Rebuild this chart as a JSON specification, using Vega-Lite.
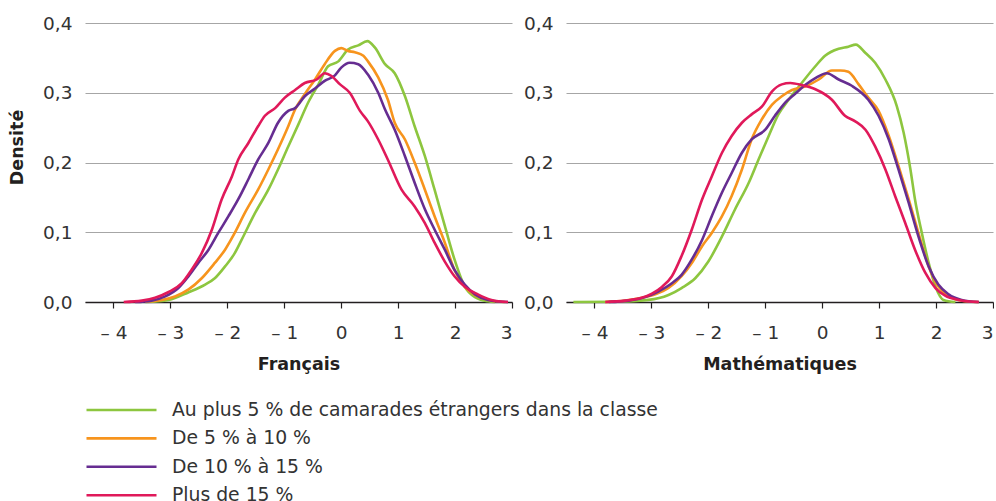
{
  "$schema": "https://vega.github.io/schema/vega-lite/v6.json",
  "padding": {"left": 8, "top": 14, "right": 0, "bottom": 0},
  "bounds": "flush",
  "spacing": 54,
  "config": {
    "font": "DejaVu Sans",
    "view": {"stroke": null},
    "axis": {
      "labelFont": "DejaVu Sans",
      "labelFontSize": 18.5,
      "labelColor": "#333333",
      "titleFont": "DejaVu Sans",
      "titleFontSize": 17.5,
      "titleFontWeight": "bold",
      "titleColor": "#231f20"
    },
    "line": {"strokeWidth": 2.6, "interpolate": "monotone"}
  },
  "datasets": {
    "groupes": [
      {"g": "g1", "groupe": "Au plus 5 % de camarades étrangers dans la classe"},
      {"g": "g2", "groupe": "De 5 % à 10 %"},
      {"g": "g3", "groupe": "De 10 % à 15 %"},
      {"g": "g4", "groupe": "Plus de 15 %"}
    ],
    "courbes": [
      {"s": "F", "g": "g1", "x": -3.44, "y": 0},
      {"s": "F", "g": "g1", "x": -3.03, "y": 0.003},
      {"s": "F", "g": "g1", "x": -2.68, "y": 0.014},
      {"s": "F", "g": "g1", "x": -2.39, "y": 0.025},
      {"s": "F", "g": "g1", "x": -2.22, "y": 0.034},
      {"s": "F", "g": "g1", "x": -2.04, "y": 0.051},
      {"s": "F", "g": "g1", "x": -1.87, "y": 0.07},
      {"s": "F", "g": "g1", "x": -1.75, "y": 0.089},
      {"s": "F", "g": "g1", "x": -1.51, "y": 0.128},
      {"s": "F", "g": "g1", "x": -1.28, "y": 0.161},
      {"s": "F", "g": "g1", "x": -1.11, "y": 0.19},
      {"s": "F", "g": "g1", "x": -0.93, "y": 0.223},
      {"s": "F", "g": "g1", "x": -0.75, "y": 0.255},
      {"s": "F", "g": "g1", "x": -0.58, "y": 0.286},
      {"s": "F", "g": "g1", "x": -0.4, "y": 0.312},
      {"s": "F", "g": "g1", "x": -0.23, "y": 0.338},
      {"s": "F", "g": "g1", "x": -0.05, "y": 0.345},
      {"s": "F", "g": "g1", "x": 0.12, "y": 0.362},
      {"s": "F", "g": "g1", "x": 0.3, "y": 0.368},
      {"s": "F", "g": "g1", "x": 0.46, "y": 0.374},
      {"s": "F", "g": "g1", "x": 0.59, "y": 0.365},
      {"s": "F", "g": "g1", "x": 0.77, "y": 0.341},
      {"s": "F", "g": "g1", "x": 0.94, "y": 0.328},
      {"s": "F", "g": "g1", "x": 1.12, "y": 0.295},
      {"s": "F", "g": "g1", "x": 1.29, "y": 0.252},
      {"s": "F", "g": "g1", "x": 1.47, "y": 0.209},
      {"s": "F", "g": "g1", "x": 1.64, "y": 0.161},
      {"s": "F", "g": "g1", "x": 1.82, "y": 0.109},
      {"s": "F", "g": "g1", "x": 1.99, "y": 0.061},
      {"s": "F", "g": "g1", "x": 2.17, "y": 0.022},
      {"s": "F", "g": "g1", "x": 2.35, "y": 0.007},
      {"s": "F", "g": "g1", "x": 2.58, "y": 0.001},
      {"s": "F", "g": "g1", "x": 2.7, "y": 0},

      {"s": "F", "g": "g2", "x": -3.44, "y": 0.0005},
      {"s": "F", "g": "g2", "x": -3.15, "y": 0.003},
      {"s": "F", "g": "g2", "x": -2.92, "y": 0.008},
      {"s": "F", "g": "g2", "x": -2.68, "y": 0.018},
      {"s": "F", "g": "g2", "x": -2.45, "y": 0.034},
      {"s": "F", "g": "g2", "x": -2.22, "y": 0.056},
      {"s": "F", "g": "g2", "x": -2.04, "y": 0.075},
      {"s": "F", "g": "g2", "x": -1.87, "y": 0.099},
      {"s": "F", "g": "g2", "x": -1.69, "y": 0.128},
      {"s": "F", "g": "g2", "x": -1.46, "y": 0.161},
      {"s": "F", "g": "g2", "x": -1.28, "y": 0.19},
      {"s": "F", "g": "g2", "x": -1.11, "y": 0.219},
      {"s": "F", "g": "g2", "x": -0.93, "y": 0.252},
      {"s": "F", "g": "g2", "x": -0.81, "y": 0.276},
      {"s": "F", "g": "g2", "x": -0.64, "y": 0.298},
      {"s": "F", "g": "g2", "x": -0.46, "y": 0.319},
      {"s": "F", "g": "g2", "x": -0.29, "y": 0.341},
      {"s": "F", "g": "g2", "x": -0.11, "y": 0.36},
      {"s": "F", "g": "g2", "x": 0.0, "y": 0.364},
      {"s": "F", "g": "g2", "x": 0.12, "y": 0.36},
      {"s": "F", "g": "g2", "x": 0.24, "y": 0.358},
      {"s": "F", "g": "g2", "x": 0.39, "y": 0.353},
      {"s": "F", "g": "g2", "x": 0.47, "y": 0.345},
      {"s": "F", "g": "g2", "x": 0.65, "y": 0.322},
      {"s": "F", "g": "g2", "x": 0.82, "y": 0.29},
      {"s": "F", "g": "g2", "x": 0.94, "y": 0.257},
      {"s": "F", "g": "g2", "x": 1.12, "y": 0.233},
      {"s": "F", "g": "g2", "x": 1.29, "y": 0.2},
      {"s": "F", "g": "g2", "x": 1.47, "y": 0.161},
      {"s": "F", "g": "g2", "x": 1.64, "y": 0.123},
      {"s": "F", "g": "g2", "x": 1.82, "y": 0.085},
      {"s": "F", "g": "g2", "x": 1.99, "y": 0.046},
      {"s": "F", "g": "g2", "x": 2.17, "y": 0.022},
      {"s": "F", "g": "g2", "x": 2.35, "y": 0.01},
      {"s": "F", "g": "g2", "x": 2.58, "y": 0.003},
      {"s": "F", "g": "g2", "x": 2.87, "y": 0},

      {"s": "F", "g": "g3", "x": -3.62, "y": 0},
      {"s": "F", "g": "g3", "x": -3.33, "y": 0.002},
      {"s": "F", "g": "g3", "x": -3.09, "y": 0.008},
      {"s": "F", "g": "g3", "x": -2.86, "y": 0.02},
      {"s": "F", "g": "g3", "x": -2.68, "y": 0.037},
      {"s": "F", "g": "g3", "x": -2.51, "y": 0.056},
      {"s": "F", "g": "g3", "x": -2.33, "y": 0.075},
      {"s": "F", "g": "g3", "x": -2.16, "y": 0.099},
      {"s": "F", "g": "g3", "x": -1.98, "y": 0.123},
      {"s": "F", "g": "g3", "x": -1.81, "y": 0.147},
      {"s": "F", "g": "g3", "x": -1.63, "y": 0.176},
      {"s": "F", "g": "g3", "x": -1.46, "y": 0.204},
      {"s": "F", "g": "g3", "x": -1.28, "y": 0.228},
      {"s": "F", "g": "g3", "x": -1.11, "y": 0.257},
      {"s": "F", "g": "g3", "x": -0.93, "y": 0.274},
      {"s": "F", "g": "g3", "x": -0.81, "y": 0.278},
      {"s": "F", "g": "g3", "x": -0.64, "y": 0.295},
      {"s": "F", "g": "g3", "x": -0.46, "y": 0.306},
      {"s": "F", "g": "g3", "x": -0.29, "y": 0.317},
      {"s": "F", "g": "g3", "x": -0.11, "y": 0.325},
      {"s": "F", "g": "g3", "x": 0.0, "y": 0.336},
      {"s": "F", "g": "g3", "x": 0.15, "y": 0.343},
      {"s": "F", "g": "g3", "x": 0.3, "y": 0.341},
      {"s": "F", "g": "g3", "x": 0.47, "y": 0.326},
      {"s": "F", "g": "g3", "x": 0.65, "y": 0.3},
      {"s": "F", "g": "g3", "x": 0.77, "y": 0.276},
      {"s": "F", "g": "g3", "x": 0.94, "y": 0.247},
      {"s": "F", "g": "g3", "x": 1.12, "y": 0.209},
      {"s": "F", "g": "g3", "x": 1.29, "y": 0.171},
      {"s": "F", "g": "g3", "x": 1.47, "y": 0.133},
      {"s": "F", "g": "g3", "x": 1.64, "y": 0.104},
      {"s": "F", "g": "g3", "x": 1.82, "y": 0.075},
      {"s": "F", "g": "g3", "x": 1.99, "y": 0.046},
      {"s": "F", "g": "g3", "x": 2.17, "y": 0.025},
      {"s": "F", "g": "g3", "x": 2.35, "y": 0.011},
      {"s": "F", "g": "g3", "x": 2.58, "y": 0.003},
      {"s": "F", "g": "g3", "x": 2.93, "y": 0},

      {"s": "F", "g": "g4", "x": -3.82, "y": 0},
      {"s": "F", "g": "g4", "x": -3.5, "y": 0.002},
      {"s": "F", "g": "g4", "x": -3.27, "y": 0.006},
      {"s": "F", "g": "g4", "x": -3.04, "y": 0.014},
      {"s": "F", "g": "g4", "x": -2.8, "y": 0.027},
      {"s": "F", "g": "g4", "x": -2.63, "y": 0.046},
      {"s": "F", "g": "g4", "x": -2.45, "y": 0.07},
      {"s": "F", "g": "g4", "x": -2.27, "y": 0.104},
      {"s": "F", "g": "g4", "x": -2.1, "y": 0.147},
      {"s": "F", "g": "g4", "x": -1.92, "y": 0.18},
      {"s": "F", "g": "g4", "x": -1.81, "y": 0.204},
      {"s": "F", "g": "g4", "x": -1.63, "y": 0.228},
      {"s": "F", "g": "g4", "x": -1.46, "y": 0.252},
      {"s": "F", "g": "g4", "x": -1.34, "y": 0.267},
      {"s": "F", "g": "g4", "x": -1.16, "y": 0.278},
      {"s": "F", "g": "g4", "x": -0.99, "y": 0.293},
      {"s": "F", "g": "g4", "x": -0.81, "y": 0.304},
      {"s": "F", "g": "g4", "x": -0.64, "y": 0.314},
      {"s": "F", "g": "g4", "x": -0.43, "y": 0.319},
      {"s": "F", "g": "g4", "x": -0.29, "y": 0.328},
      {"s": "F", "g": "g4", "x": -0.17, "y": 0.324},
      {"s": "F", "g": "g4", "x": -0.02, "y": 0.312},
      {"s": "F", "g": "g4", "x": 0.15, "y": 0.3},
      {"s": "F", "g": "g4", "x": 0.33, "y": 0.274},
      {"s": "F", "g": "g4", "x": 0.47, "y": 0.259},
      {"s": "F", "g": "g4", "x": 0.65, "y": 0.233},
      {"s": "F", "g": "g4", "x": 0.82, "y": 0.204},
      {"s": "F", "g": "g4", "x": 1.06, "y": 0.161},
      {"s": "F", "g": "g4", "x": 1.29, "y": 0.137},
      {"s": "F", "g": "g4", "x": 1.47, "y": 0.113},
      {"s": "F", "g": "g4", "x": 1.64, "y": 0.085},
      {"s": "F", "g": "g4", "x": 1.82, "y": 0.058},
      {"s": "F", "g": "g4", "x": 1.99, "y": 0.037},
      {"s": "F", "g": "g4", "x": 2.17, "y": 0.022},
      {"s": "F", "g": "g4", "x": 2.4, "y": 0.011},
      {"s": "F", "g": "g4", "x": 2.64, "y": 0.003},
      {"s": "F", "g": "g4", "x": 2.93, "y": 0},

      {"s": "M", "g": "g1", "x": -4.37, "y": 0},
      {"s": "M", "g": "g1", "x": -3.64, "y": 0.0003},
      {"s": "M", "g": "g1", "x": -3.05, "y": 0.003},
      {"s": "M", "g": "g1", "x": -2.7, "y": 0.01},
      {"s": "M", "g": "g1", "x": -2.47, "y": 0.02},
      {"s": "M", "g": "g1", "x": -2.23, "y": 0.034},
      {"s": "M", "g": "g1", "x": -2.0, "y": 0.058},
      {"s": "M", "g": "g1", "x": -1.76, "y": 0.094},
      {"s": "M", "g": "g1", "x": -1.53, "y": 0.133},
      {"s": "M", "g": "g1", "x": -1.29, "y": 0.171},
      {"s": "M", "g": "g1", "x": -1.12, "y": 0.204},
      {"s": "M", "g": "g1", "x": -0.94, "y": 0.238},
      {"s": "M", "g": "g1", "x": -0.77, "y": 0.269},
      {"s": "M", "g": "g1", "x": -0.59, "y": 0.29},
      {"s": "M", "g": "g1", "x": -0.36, "y": 0.314},
      {"s": "M", "g": "g1", "x": -0.12, "y": 0.338},
      {"s": "M", "g": "g1", "x": 0.05, "y": 0.353},
      {"s": "M", "g": "g1", "x": 0.29, "y": 0.363},
      {"s": "M", "g": "g1", "x": 0.46, "y": 0.366},
      {"s": "M", "g": "g1", "x": 0.59, "y": 0.369},
      {"s": "M", "g": "g1", "x": 0.76, "y": 0.357},
      {"s": "M", "g": "g1", "x": 0.93, "y": 0.343},
      {"s": "M", "g": "g1", "x": 1.11, "y": 0.319},
      {"s": "M", "g": "g1", "x": 1.31, "y": 0.281},
      {"s": "M", "g": "g1", "x": 1.43, "y": 0.243},
      {"s": "M", "g": "g1", "x": 1.55, "y": 0.19},
      {"s": "M", "g": "g1", "x": 1.63, "y": 0.147},
      {"s": "M", "g": "g1", "x": 1.75, "y": 0.099},
      {"s": "M", "g": "g1", "x": 1.87, "y": 0.056},
      {"s": "M", "g": "g1", "x": 1.99, "y": 0.022},
      {"s": "M", "g": "g1", "x": 2.13, "y": 0.003},
      {"s": "M", "g": "g1", "x": 2.34, "y": 0},

      {"s": "M", "g": "g2", "x": -3.81, "y": 0},
      {"s": "M", "g": "g2", "x": -3.46, "y": 0.002},
      {"s": "M", "g": "g2", "x": -3.17, "y": 0.006},
      {"s": "M", "g": "g2", "x": -2.93, "y": 0.011},
      {"s": "M", "g": "g2", "x": -2.7, "y": 0.02},
      {"s": "M", "g": "g2", "x": -2.47, "y": 0.037},
      {"s": "M", "g": "g2", "x": -2.29, "y": 0.056},
      {"s": "M", "g": "g2", "x": -2.11, "y": 0.08},
      {"s": "M", "g": "g2", "x": -1.94, "y": 0.099},
      {"s": "M", "g": "g2", "x": -1.76, "y": 0.123},
      {"s": "M", "g": "g2", "x": -1.59, "y": 0.152},
      {"s": "M", "g": "g2", "x": -1.41, "y": 0.19},
      {"s": "M", "g": "g2", "x": -1.24, "y": 0.233},
      {"s": "M", "g": "g2", "x": -1.06, "y": 0.262},
      {"s": "M", "g": "g2", "x": -0.88, "y": 0.283},
      {"s": "M", "g": "g2", "x": -0.71, "y": 0.295},
      {"s": "M", "g": "g2", "x": -0.53, "y": 0.304},
      {"s": "M", "g": "g2", "x": -0.3, "y": 0.309},
      {"s": "M", "g": "g2", "x": -0.06, "y": 0.319},
      {"s": "M", "g": "g2", "x": 0.17, "y": 0.332},
      {"s": "M", "g": "g2", "x": 0.32, "y": 0.332},
      {"s": "M", "g": "g2", "x": 0.46, "y": 0.33},
      {"s": "M", "g": "g2", "x": 0.64, "y": 0.312},
      {"s": "M", "g": "g2", "x": 0.81, "y": 0.293},
      {"s": "M", "g": "g2", "x": 0.99, "y": 0.274},
      {"s": "M", "g": "g2", "x": 1.17, "y": 0.238},
      {"s": "M", "g": "g2", "x": 1.34, "y": 0.195},
      {"s": "M", "g": "g2", "x": 1.52, "y": 0.147},
      {"s": "M", "g": "g2", "x": 1.69, "y": 0.099},
      {"s": "M", "g": "g2", "x": 1.87, "y": 0.051},
      {"s": "M", "g": "g2", "x": 2.04, "y": 0.022},
      {"s": "M", "g": "g2", "x": 2.22, "y": 0.008},
      {"s": "M", "g": "g2", "x": 2.51, "y": 0.001},
      {"s": "M", "g": "g2", "x": 2.75, "y": 0},

      {"s": "M", "g": "g3", "x": -3.75, "y": 0},
      {"s": "M", "g": "g3", "x": -3.4, "y": 0.002},
      {"s": "M", "g": "g3", "x": -3.11, "y": 0.007},
      {"s": "M", "g": "g3", "x": -2.88, "y": 0.015},
      {"s": "M", "g": "g3", "x": -2.64, "y": 0.027},
      {"s": "M", "g": "g3", "x": -2.47, "y": 0.039},
      {"s": "M", "g": "g3", "x": -2.29, "y": 0.061},
      {"s": "M", "g": "g3", "x": -2.11, "y": 0.089},
      {"s": "M", "g": "g3", "x": -1.94, "y": 0.123},
      {"s": "M", "g": "g3", "x": -1.76, "y": 0.157},
      {"s": "M", "g": "g3", "x": -1.59, "y": 0.185},
      {"s": "M", "g": "g3", "x": -1.41, "y": 0.214},
      {"s": "M", "g": "g3", "x": -1.24, "y": 0.233},
      {"s": "M", "g": "g3", "x": -1.0, "y": 0.247},
      {"s": "M", "g": "g3", "x": -0.83, "y": 0.267},
      {"s": "M", "g": "g3", "x": -0.65, "y": 0.286},
      {"s": "M", "g": "g3", "x": -0.47, "y": 0.299},
      {"s": "M", "g": "g3", "x": -0.3, "y": 0.311},
      {"s": "M", "g": "g3", "x": -0.12, "y": 0.321},
      {"s": "M", "g": "g3", "x": 0.08, "y": 0.328},
      {"s": "M", "g": "g3", "x": 0.29, "y": 0.319},
      {"s": "M", "g": "g3", "x": 0.52, "y": 0.31},
      {"s": "M", "g": "g3", "x": 0.81, "y": 0.29},
      {"s": "M", "g": "g3", "x": 0.99, "y": 0.267},
      {"s": "M", "g": "g3", "x": 1.17, "y": 0.233},
      {"s": "M", "g": "g3", "x": 1.34, "y": 0.19},
      {"s": "M", "g": "g3", "x": 1.52, "y": 0.142},
      {"s": "M", "g": "g3", "x": 1.69, "y": 0.094},
      {"s": "M", "g": "g3", "x": 1.87, "y": 0.051},
      {"s": "M", "g": "g3", "x": 2.04, "y": 0.025},
      {"s": "M", "g": "g3", "x": 2.22, "y": 0.011},
      {"s": "M", "g": "g3", "x": 2.45, "y": 0.003},
      {"s": "M", "g": "g3", "x": 2.75, "y": 0},

      {"s": "M", "g": "g4", "x": -3.81, "y": 0},
      {"s": "M", "g": "g4", "x": -3.46, "y": 0.002},
      {"s": "M", "g": "g4", "x": -3.17, "y": 0.006},
      {"s": "M", "g": "g4", "x": -2.99, "y": 0.012},
      {"s": "M", "g": "g4", "x": -2.81, "y": 0.022},
      {"s": "M", "g": "g4", "x": -2.64, "y": 0.037},
      {"s": "M", "g": "g4", "x": -2.47, "y": 0.066},
      {"s": "M", "g": "g4", "x": -2.29, "y": 0.104},
      {"s": "M", "g": "g4", "x": -2.11, "y": 0.147},
      {"s": "M", "g": "g4", "x": -1.94, "y": 0.18},
      {"s": "M", "g": "g4", "x": -1.76, "y": 0.214},
      {"s": "M", "g": "g4", "x": -1.59, "y": 0.238},
      {"s": "M", "g": "g4", "x": -1.41, "y": 0.257},
      {"s": "M", "g": "g4", "x": -1.24, "y": 0.269},
      {"s": "M", "g": "g4", "x": -1.06, "y": 0.28},
      {"s": "M", "g": "g4", "x": -0.88, "y": 0.302},
      {"s": "M", "g": "g4", "x": -0.71, "y": 0.312},
      {"s": "M", "g": "g4", "x": -0.56, "y": 0.314},
      {"s": "M", "g": "g4", "x": -0.36, "y": 0.311},
      {"s": "M", "g": "g4", "x": -0.12, "y": 0.305},
      {"s": "M", "g": "g4", "x": 0.17, "y": 0.29},
      {"s": "M", "g": "g4", "x": 0.4, "y": 0.267},
      {"s": "M", "g": "g4", "x": 0.58, "y": 0.259},
      {"s": "M", "g": "g4", "x": 0.76, "y": 0.247},
      {"s": "M", "g": "g4", "x": 0.93, "y": 0.223},
      {"s": "M", "g": "g4", "x": 1.11, "y": 0.19},
      {"s": "M", "g": "g4", "x": 1.28, "y": 0.152},
      {"s": "M", "g": "g4", "x": 1.46, "y": 0.113},
      {"s": "M", "g": "g4", "x": 1.63, "y": 0.075},
      {"s": "M", "g": "g4", "x": 1.81, "y": 0.042},
      {"s": "M", "g": "g4", "x": 1.99, "y": 0.02},
      {"s": "M", "g": "g4", "x": 2.16, "y": 0.009},
      {"s": "M", "g": "g4", "x": 2.4, "y": 0.003},
      {"s": "M", "g": "g4", "x": 2.75, "y": 0}
    ]
  },
  "hconcat": [
    {
      "width": 427,
      "height": 279,
      "data": {"name": "courbes"},
      "transform": [
        {"filter": "datum.s === 'F'"},
        {"lookup": "g", "from": {"data": {"name": "groupes"}, "key": "g", "fields": ["groupe"]}}
      ],
      "mark": "line",
      "encoding": {
        "x": {
          "field": "x", "type": "quantitative",
          "scale": {"domain": [-4.5, 3], "nice": false, "zero": false},
          "axis": {
            "title": "Français", "values": [-4, -3, -2, -1, 0, 1, 2, 3], "grid": false,
            "domainColor": "#231f20", "domainWidth": 1.5, "tickColor": "#231f20", "tickSize": 6, "tickWidth": 1.2,
            "labelPadding": 15, "titlePadding": 14,
            "labelExpr": "datum.value < 0 ? '– ' + abs(datum.value) : '' + datum.value"
          }
        },
        "y": {
          "field": "y", "type": "quantitative",
          "scale": {"domain": [0, 0.4], "nice": false},
          "axis": {
            "title": "Densité", "values": [0, 0.1, 0.2, 0.3, 0.4], "domain": false, "ticks": false,
            "gridColor": "#a6a6a6", "gridWidth": 1, "labelPadding": 13, "titlePadding": 16, "titleY": 124,
            "labelExpr": "replace(format(datum.value, '.1f'), '.', ',')"
          }
        },
        "color": {
          "field": "groupe", "type": "nominal",
          "scale": {
            "domain": ["Au plus 5 % de camarades étrangers dans la classe", "De 5 % à 10 %", "De 10 % à 15 %", "Plus de 15 %"],
            "range": ["#8dc63f", "#f7941d", "#662d91", "#e0195a"]
          },
          "legend": {
            "title": null, "orient": "none", "legendX": 0, "legendY": 377, "direction": "vertical",
            "symbolType": "stroke", "symbolSize": 4900, "symbolStrokeWidth": 4, "clipHeight": 20, "rowPadding": 8.4,
            "labelFont": "DejaVu Sans", "labelFontSize": 18.8, "labelColor": "#333333", "labelOffset": 14, "labelLimit": 700
          }
        }
      }
    },
    {
      "width": 427,
      "height": 279,
      "data": {"name": "courbes"},
      "transform": [
        {"filter": "datum.s === 'M'"},
        {"lookup": "g", "from": {"data": {"name": "groupes"}, "key": "g", "fields": ["groupe"]}}
      ],
      "mark": "line",
      "encoding": {
        "x": {
          "field": "x", "type": "quantitative",
          "scale": {"domain": [-4.5, 3], "nice": false, "zero": false},
          "axis": {
            "title": "Mathématiques", "values": [-4, -3, -2, -1, 0, 1, 2, 3], "grid": false,
            "domainColor": "#231f20", "domainWidth": 1.5, "tickColor": "#231f20", "tickSize": 6, "tickWidth": 1.2,
            "labelPadding": 15, "titlePadding": 14,
            "labelExpr": "datum.value < 0 ? '– ' + abs(datum.value) : '' + datum.value"
          }
        },
        "y": {
          "field": "y", "type": "quantitative",
          "scale": {"domain": [0, 0.4], "nice": false},
          "axis": {
            "title": null, "values": [0, 0.1, 0.2, 0.3, 0.4], "domain": false, "ticks": false,
            "gridColor": "#a6a6a6", "gridWidth": 1, "labelPadding": 13,
            "labelExpr": "replace(format(datum.value, '.1f'), '.', ',')"
          }
        },
        "color": {
          "field": "groupe", "type": "nominal",
          "scale": {
            "domain": ["Au plus 5 % de camarades étrangers dans la classe", "De 5 % à 10 %", "De 10 % à 15 %", "Plus de 15 %"],
            "range": ["#8dc63f", "#f7941d", "#662d91", "#e0195a"]
          },
          "legend": {
            "title": null, "orient": "none", "legendX": 0, "legendY": 377, "direction": "vertical",
            "symbolType": "stroke", "symbolSize": 4900, "symbolStrokeWidth": 4, "clipHeight": 20, "rowPadding": 8.4,
            "labelFont": "DejaVu Sans", "labelFontSize": 18.8, "labelColor": "#333333", "labelOffset": 14, "labelLimit": 700
          }
        }
      }
    }
  ]
}
